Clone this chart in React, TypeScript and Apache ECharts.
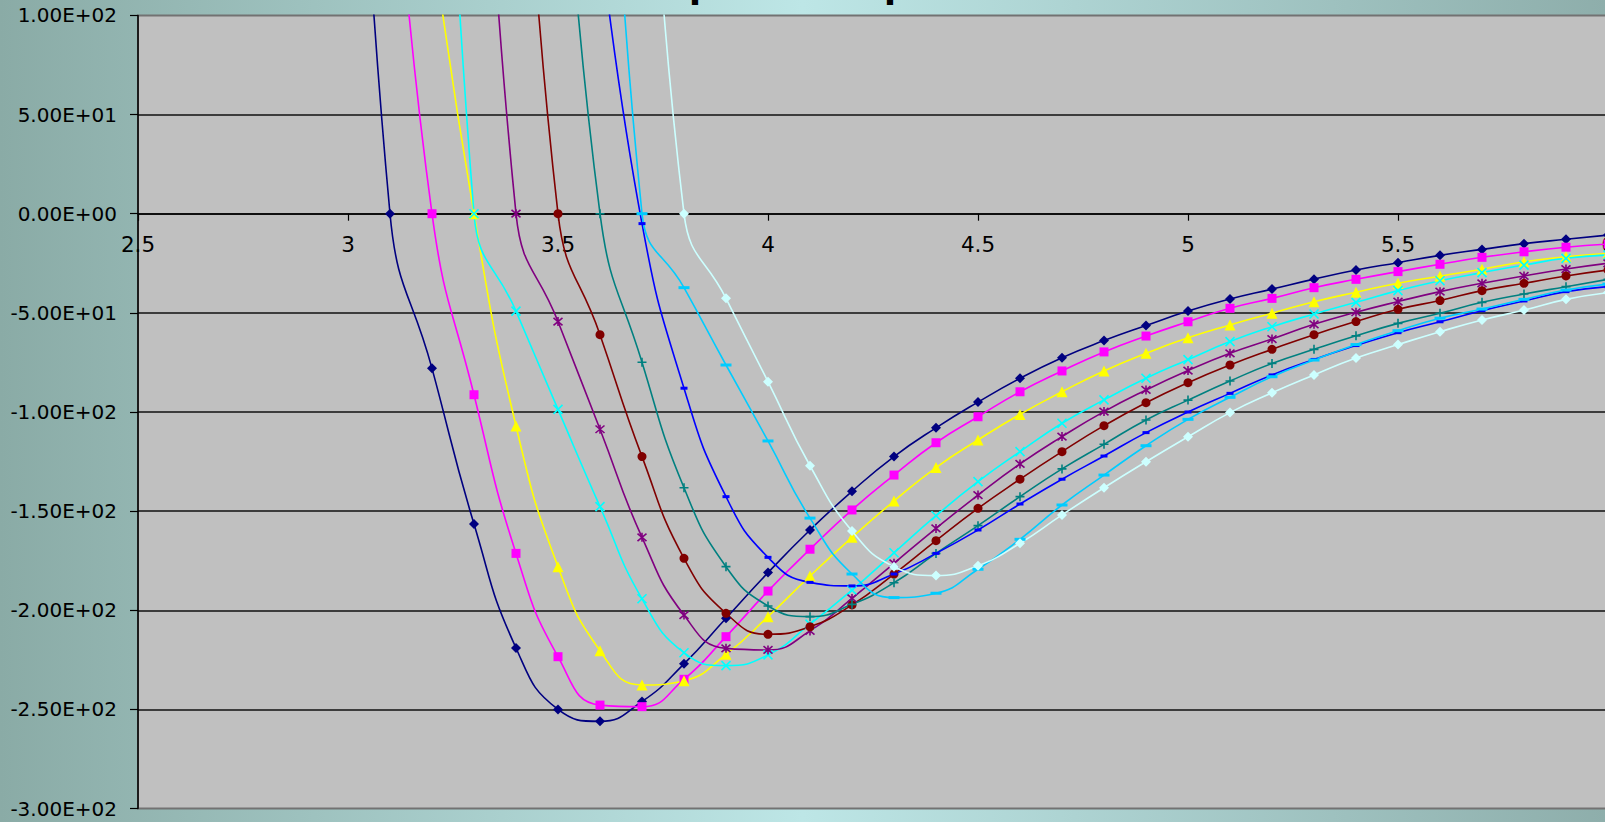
import React, { useEffect, useRef } from "react";
import * as echarts from "echarts";

// r values (x) shared by all series
const R = [3.0, 3.1, 3.2, 3.3, 3.4, 3.5, 3.6, 3.7, 3.8, 3.9, 4.0, 4.1, 4.2, 4.3, 4.4, 4.5, 4.6, 4.7, 4.8, 4.9, 5.0, 5.1, 5.2, 5.3, 5.4, 5.5, 5.6, 5.7, 5.8, 5.9, 6.0];

const S1 = [380, 0, -78, -156.5, -219, -250, -256, -246, -227, -204, -181, -159.5, -140, -122.5, -108, -95, -83, -72.6, -64, -56.4, -49.1, -43, -38, -33, -28.4, -24.7, -21, -18, -15.1, -12.9, -10.8];
const S2 = [null, 220, 0, -91.3, -171.3, -223.4, -247.8, -248.6, -234.8, -213.3, -190.3, -169.2, -149.4, -131.8, -115.5, -102.4, -89.8, -79.3, -69.7, -61.7, -54.5, -47.7, -42.7, -37.3, -33.1, -29.2, -25.5, -22, -19.2, -16.9, -15.3];
const S3 = [null, null, 140, 0, -107, -178, -220.4, -237.7, -235.5, -222.2, -203.2, -182.7, -163.2, -144.9, -128, -114.1, -101.2, -89.8, -79.3, -70.4, -62.6, -56.1, -50.2, -44.4, -39.6, -35.1, -31.5, -28, -24.2, -21.7, -20];
const S4 = [null, null, 480, 0, -49.1, -98.7, -147.7, -194.2, -221.4, -227.9, -222.5, -207, -189.8, -171, -152.3, -135.1, -120, -105.7, -93.9, -83, -73.6, -64.5, -57, -50.6, -44.7, -38.8, -33.8, -29.7, -25.9, -22.5, -20.8];
const S5 = [null, null, null, 365, 0, -54.4, -108.7, -163.2, -202.4, -219.2, -220, -210.4, -194, -176.3, -158.7, -141.9, -126.2, -112.4, -99.8, -88.9, -79.1, -70.4, -63.2, -55.8, -49.7, -44.3, -39.3, -35.1, -31.4, -27.9, -25];
const S6 = [null, null, null, null, 310, 0, -61, -122.5, -173.8, -201.5, -212.1, -208.3, -197.3, -181.7, -164.9, -148.6, -133.9, -120, -106.9, -95.3, -85.2, -76.3, -68.4, -61, -54.4, -48.2, -43.8, -38.8, -35.1, -31.4, -28.4];
const S7 = [null, null, null, null, null, 250, 0, -74.9, -138.2, -178, -197.8, -203.2, -197, -186.1, -171.3, -157.3, -142.7, -128.7, -116.3, -104, -94, -84.4, -75.5, -68.4, -61.6, -55.3, -50.2, -44.7, -40.5, -36.8, -33.1];
const S8 = [null, null, null, null, null, null, 140, -5, -88, -142.7, -173.3, -185.9, -187.7, -181.7, -171.3, -159.5, -146.4, -133.9, -122.2, -110.4, -100, -90.6, -81.3, -73.5, -66.5, -60, -54.5, -48.9, -44, -39.3, -36.8];
const S9 = [null, null, null, null, null, null, 380, 0, -37.3, -76.3, -114.6, -153.5, -181.7, -193.6, -191.4, -179.3, -164.2, -146.9, -131.8, -117, -103.7, -92.6, -82.2, -73.8, -66, -59, -52.7, -48.1, -43.2, -38.5, -35.5];
const S10 = [null, null, null, null, null, null, null, 310, 0, -42.7, -84.7, -127.1, -160, -178, -182.5, -177.5, -166.2, -151.9, -138.2, -125.1, -112.5, -100.3, -90.3, -81.3, -72.8, -66, -59.5, -53.6, -48.6, -43.2, -39.8];

const SERIES_VALUES = [S1, S2, S3, S4, S5, S6, S7, S8, S9, S10];
const SERIES_NAMES = ["Series1", "Series2", "Series3", "Series4", "Series5", "Series6", "Series7", "Series8", "Series9", "Series10"];
const COLORS = ["#000080", "#FF00FF", "#FFFF00", "#00FFFF", "#800080", "#800000", "#008080", "#0000FF", "#00CCFF", "#CCFFFF"];

const X_PATH = "path://M0,0L10,10M10,0L0,10";
const STAR_PATH = "path://M0,0L10,10M10,0L0,10M5,-1L5,11";
const PLUS_PATH = "path://M5,0L5,10M0,5L10,5";
const SYMBOLS: any[] = ["diamond", "rect", "triangle", X_PATH, STAR_PATH, "circle", PLUS_PATH, "rect", "rect", "diamond"];
const SYMBOL_SIZES: any[] = [10, 9, 11, 9, 9, 9, 9, [7, 3], [11, 3], 10];

const TITLE = "Some possible potentials";

const X_MIN = 2.5;
const X_MAX = 6;
const Y_MIN = -300;
const Y_MAX = 100;

function sci(v: number): string {
  if (v === 0) return "0.00E+00";
  const e = Math.floor(Math.log10(Math.abs(v)) + 1e-9);
  const m = v / Math.pow(10, e);
  const es = (e < 0 ? "-" : "+") + String(Math.abs(e)).padStart(2, "0");
  return m.toFixed(2) + "E" + es;
}

export default function App() {
  const ref = useRef<HTMLDivElement>(null);
  useEffect(() => {
    if (!ref.current) return;
    const chart = echarts.init(ref.current, undefined, { renderer: "svg" });
    const gridTop = 15.4;
    const gridHeight = 793.2;
    const pxPerX = 420;
    // x axis sits at y = 0: offset from the grid bottom
    const zeroOffset = -gridHeight * (0 - Y_MIN) / (Y_MAX - Y_MIN);
    const series = SERIES_VALUES.map((vals, i) => {
      const data: any[] = [];
      vals.forEach((v, j) => {
        if (v !== null) data.push([R[j], v]);
      });
      const isStroke = i === 3 || i === 4 || i === 6;
      return {
        name: SERIES_NAMES[i],
        type: "line",
        data,
        smooth: 0.5,
        clip: true,
        symbol: SYMBOLS[i],
        symbolSize: SYMBOL_SIZES[i],
        showSymbol: true,
        lineStyle: { color: COLORS[i], width: 1.6 },
        itemStyle: {
          color: COLORS[i],
          borderColor: COLORS[i],
          borderWidth: isStroke ? 1.6 : 0,
        },
        emphasis: { disabled: true },
      };
    });
    chart.setOption({
      animation: false,
      backgroundColor: "transparent",
      grid: {
        left: 138,
        top: gridTop,
        width: (X_MAX - X_MIN) * pxPerX,
        height: gridHeight,
        show: true,
        backgroundColor: "#C0C0C0",
        borderColor: "#727272",
        borderWidth: 2,
        outerBoundsMode: "none",
      },
      graphic: [
        {
          type: "text",
          x: 825,
          y: 3,
          z: 100,
          style: {
            text: TITLE,
            fill: "#000",
            fontSize: 45,
            fontWeight: "bold",
            fontFamily: "Liberation Sans, Arial, sans-serif",
            align: "center",
            verticalAlign: "bottom",
          },
        },
      ],
      xAxis: {
        type: "value",
        min: X_MIN,
        max: X_MAX,
        interval: 0.5,
        position: "bottom",
        offset: zeroOffset,
        axisLine: { show: true, onZero: false, lineStyle: { color: "#000", width: 1.5 } },
        axisTick: { show: true, length: 7, inside: false, lineStyle: { color: "#000", width: 1.2 } },
        axisLabel: {
          color: "#000",
          fontSize: 21.5,
          fontFamily: "DejaVu Sans, sans-serif",
          margin: 20,
        },
        splitLine: { show: false },
      },
      yAxis: {
        type: "value",
        min: Y_MIN,
        max: Y_MAX,
        interval: 50,
        axisLine: { show: true, onZero: false, lineStyle: { color: "#000", width: 1.5 } },
        axisTick: { show: true, length: 8, inside: false, lineStyle: { color: "#000", width: 1.2 } },
        axisLabel: {
          color: "#000",
          fontSize: 20,
          fontFamily: "DejaVu Sans, sans-serif",
          margin: 21,
          formatter: (v: number) => sci(v),
        },
        splitLine: {
          show: true,
          showMinLine: false,
          showMaxLine: false,
          lineStyle: { color: "#111", width: 1.5 },
        },
      },
      series,
    });
    return () => chart.dispose();
  }, []);
  return (
    <div
      style={{
        position: "fixed",
        left: 0,
        top: 0,
        width: 1605,
        height: 822,
        overflow: "hidden",
        background: "linear-gradient(90deg, #8aaba6 0%, #bde6e6 50%, #8eaeab 100%)",
      }}
    >
      <div ref={ref} style={{ width: 1700, height: 822 }} />
    </div>
  );
}
